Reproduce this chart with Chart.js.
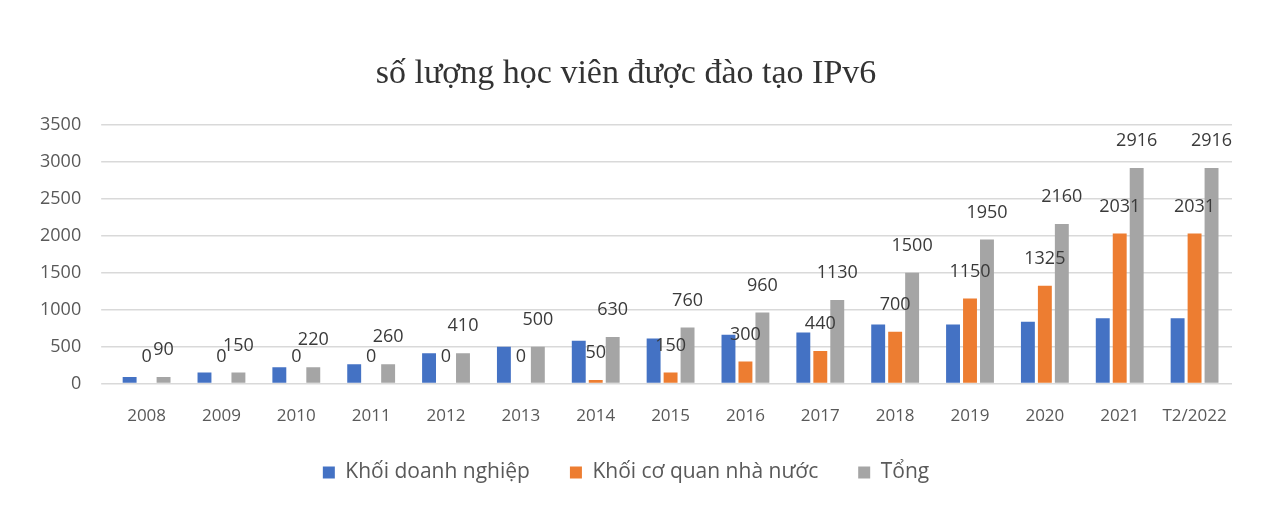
<!DOCTYPE html>
<html>
<head>
<meta charset="utf-8">
<script src="https://cdn.jsdelivr.net/npm/chart.js@4"></script>
<style>
  html, body { margin: 0; padding: 0; background: #ffffff; }
  #wrap { width: 1284px; height: 520px; }
</style>
</head>
<body>
<div id="wrap"><canvas id="ipv6Chart" width="1284" height="520"></canvas></div>
<script>
const categories = ["2008", "2009", "2010", "2011", "2012", "2013", "2014", "2015", "2016", "2017", "2018", "2019", "2020", "2021", "T2/2022"];
const doanhNghiep = [90, 150, 220, 260, 410, 500, 580, 610, 660, 690, 800, 800, 835, 885, 885];
const coQuan = [0, 0, 0, 0, 0, 0, 50, 150, 300, 440, 700, 1150, 1325, 2031, 2031];
const tong = [90, 150, 220, 260, 410, 500, 630, 760, 960, 1130, 1500, 1950, 2160, 2916, 2916];
const yTicks = [0, 500, 1000, 1500, 2000, 2500, 3000, 3500];

// labels above the orange and grey bars, like the Excel original
const barLabels = {
  id: "barLabels",
  afterDatasetsDraw(chart) {
    const c = chart.ctx;
    c.save();
    c.font = "18px 'Open Sans'";
    c.fillStyle = "#3a3a3a";
    c.textAlign = "center";
    c.textBaseline = "middle";
    [1, 2].forEach((i) => {
      const meta = chart.getDatasetMeta(i);
      meta.data.forEach((bar, j) => {
        c.fillText(chart.data.datasets[i].data[j], bar.x, bar.y - 27);
      });
    });
    c.restore();
  },
};

const ctx = document.getElementById("ipv6Chart").getContext("2d");
const ipv6Chart = new Chart(ctx, {
  type: "bar",
  data: {
    labels: categories,
    datasets: [
      { label: "Khối doanh nghiệp", data: doanhNghiep, backgroundColor: "#4472c4" },
      { label: "Khối cơ quan nhà nước", data: coQuan, backgroundColor: "#ed7d31" },
      { label: "Tổng", data: tong, backgroundColor: "#a5a5a5" },
    ],
  },
  options: {
    responsive: false,
    animation: false,
    categoryPercentage: 0.68,
    barPercentage: 0.82,
    layout: { padding: { left: 20, right: 52, top: 0, bottom: 27 } },
    plugins: {
      title: {
        display: true,
        text: "số lượng học viên được đào tạo IPv6",
        font: { family: "'Liberation Serif'", size: 34, weight: "normal" },
        color: "#333333",
        padding: { top: 54, bottom: 30 },
      },
      legend: {
        position: "bottom",
        labels: {
          font: { family: "'Open Sans'", size: 21 },
          color: "#595959",
          boxWidth: 12,
          boxHeight: 12,
          padding: 40,
        },
      },
      tooltip: { enabled: false },
    },
    scales: {
      y: {
        min: 0,
        max: 3500,
        afterBuildTicks: (axis) => {
          axis.ticks = yTicks.map((v) => ({ value: v }));
        },
        grid: { color: "#d9d9d9", lineWidth: 1.5 },
        border: { display: false },
        ticks: {
          font: { family: "'Open Sans'", size: 18 },
          color: "#595959",
          padding: 20,
          callback: (v) => String(v),
        },
      },
      x: {
        grid: { display: false },
        border: { display: false },
        afterFit: (axis) => {
          axis.height -= 18;
        },
        ticks: {
          font: { family: "'Open Sans'", size: 17 },
          color: "#595959",
          padding: 14,
          maxRotation: 0,
        },
      },
    },
  },
  plugins: [barLabels],
});
</script>
</body>
</html>
